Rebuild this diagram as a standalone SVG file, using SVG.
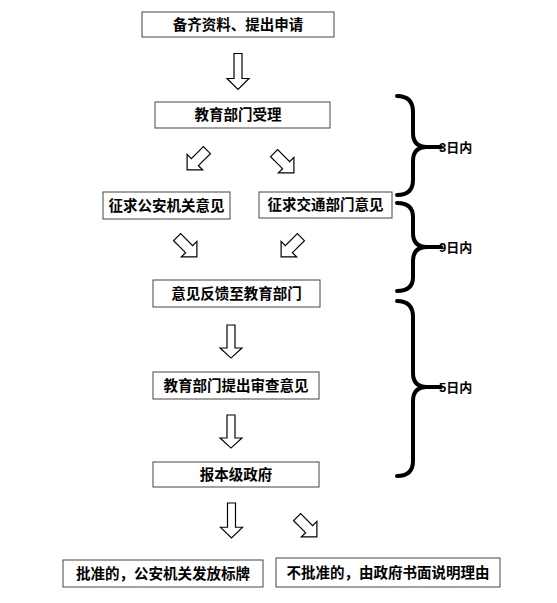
<svg xmlns="http://www.w3.org/2000/svg" width="557" height="603" viewBox="0 0 557 603">
<style>
.box{fill:#fff;stroke:#444;stroke-width:1}
.t{font-family:"Noto Sans CJK SC","Liberation Sans",sans-serif;font-weight:bold;font-size:14.5px;fill:#000;text-anchor:middle}
.lbl{font-family:"Liberation Sans","Noto Sans CJK SC",sans-serif;font-weight:bold;font-size:13px;fill:#000}
.arr{fill:#fff;stroke:#000;stroke-width:1.2;stroke-linejoin:miter}
.brace{fill:none;stroke:#000;stroke-width:4;stroke-linecap:round}
</style>
<defs>
<path id="down" class="arr" d="M-4,-18 L4,-18 L4,7 L11,7 L0,18 L-11,7 L-4,7 Z"/>
<path id="diag" class="arr" d="M-5,-14 L5,-14 L5,3 L11,3 L0,14 L-11,3 L-5,3 Z"/>
</defs>
<rect width="557" height="603" fill="#fff"/>
<g id="connectors">
<use href="#down" transform="translate(238,71.5)"/>
<use href="#diag" transform="translate(197,160) rotate(45)"/>
<use href="#diag" transform="translate(284,163) rotate(-45)"/>
<use href="#diag" transform="translate(187,247) rotate(-45)"/>
<use href="#diag" transform="translate(291,247) rotate(45)"/>
<use href="#down" transform="translate(231,341.5) scale(1,0.92)"/>
<use href="#down" transform="translate(231,431.5) scale(1,0.92)"/>
<use href="#down" transform="translate(231.5,520.5) scale(1,0.97)"/>
<use href="#diag" transform="translate(307,527) rotate(-45)"/>
</g>
<g id="n1"><rect class="box" x="142" y="12" width="192" height="25"/><text class="t" x="238" y="30">备齐资料、提出申请</text></g>
<g id="n2"><rect class="box" x="155" y="102" width="175" height="26"/><text class="t" x="238" y="120">教育部门受理</text></g>
<g id="n3"><rect class="box" x="103" y="192" width="127" height="27"/><text class="t" x="166.5" y="210.5">征求公安机关意见</text></g>
<g id="n4"><rect class="box" x="259" y="192" width="133" height="26"/><text class="t" x="325.5" y="210">征求交通部门意见</text></g>
<g id="n5"><rect class="box" x="153" y="280" width="167" height="27"/><text class="t" x="236.5" y="298.5">意见反馈至教育部门</text></g>
<g id="n6"><rect class="box" x="153" y="372" width="166" height="27"/><text class="t" x="236" y="390.5">教育部门提出审查意见</text></g>
<g id="n7"><rect class="box" x="153" y="462" width="166" height="25"/><text class="t" x="236" y="479.5">报本级政府</text></g>
<g id="n8"><rect class="box" x="63" y="560" width="200" height="27"/><text class="t" x="163" y="578.5">批准的，公安机关发放标牌</text></g>
<g id="n9"><rect class="box" x="276" y="558" width="224" height="29"/><text class="t" x="388" y="577.5">不批准的，由政府书面说明理由</text></g>
<g id="braces">
<path class="brace" d="M397,96 Q413,96 413,112 V133 Q413,147 427,147 H441 M427,147 Q413,147 413,161 V180 Q413,195 397,195"/>
<path class="brace" d="M397,203 Q413,203 413,217 V233 Q413,247 427,247 H441 M427,247 Q413,247 413,261 V277 Q413,291 397,291"/>
<path class="brace" d="M397,301 Q413,301 413,317 V373 Q413,387 427,387 H441 M427,387 Q413,387 413,401 V461 Q413,476 397,476"/>
<text class="lbl" x="439" y="152">3日内</text>
<text class="lbl" x="439" y="252">9日内</text>
<text class="lbl" x="439" y="392">5日内</text>
</g>
</svg>
